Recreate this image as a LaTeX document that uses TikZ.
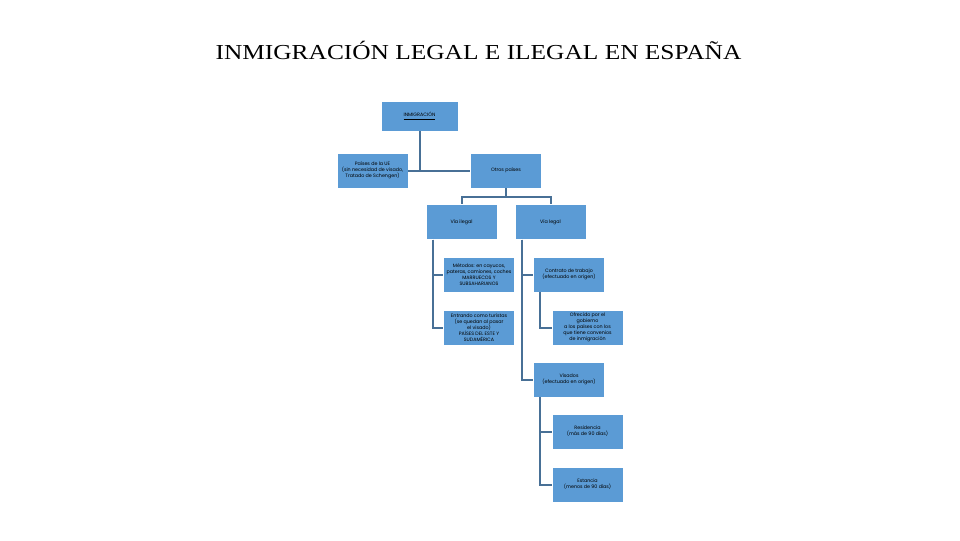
\documentclass[tikz,border=0pt]{standalone}
\usepackage{fontspec}
\setmainfont{Liberation Serif}
\newfontfamily\titlefont[FakeStretch=1.19]{Liberation Serif}
\newfontfamily\boxfont{Poppins}
\definecolor{boxblue}{RGB}{91,155,213}
\definecolor{linkblue}{RGB}{72,112,150}

\begin{document}
\begin{tikzpicture}[x=0.75pt,y=-0.75pt,
	box/.style={minimum width=53.5pt, minimum height=26pt, inner sep=1pt, fill=boxblue, draw=white, line width=0.4pt,
		align=center, font=\boxfont\fontsize{3.6}{4.4}\selectfont},
	link/.style={draw=linkblue, line width=1.5pt}]
	\useasboundingbox (0,0) rectangle (960,540);

	\draw (478.5,50) node[font=\titlefont\fontsize{16}{18}\selectfont] (title) {INMIGRACIÓN LEGAL E ILEGAL EN ESPAÑA};

	% first level
	\draw (419.5,116) node[box, minimum width=57.5pt, minimum height=22.5pt] (inmig) {\underline{INMIGRACIÓN}};
	\draw (372.5,170.5) node[box] (paises) {Países de la UE\\(sin necesidad de visado,\\Tratado de Schengen)};
	\draw (506,170.5) node[box] (otros) {Otros países};

	% second level
	\draw (461.5,222) node[box] (ilegal) {Vía ilegal};
	\draw (550.5,222) node[box] (legal) {Vía legal};

	\draw (479,274.5) node[box] (metodos) {Métodos: en cayucos,\\pateras, camiones, coches\\MARRUECOS Y\\SUBSAHARIANOS};
	\draw (479,327.5) node[box] (entrando) {Entrando como turistas\\(se quedan al pasar\\el visado)\\PAÍSES DEL ESTE Y\\SUDAMÉRICA};

	\draw (569,274.5) node[box] (contrato) {Contrato de trabajo\\(efectuado en origen)};
	\draw (587.5,327.5) node[box] (ofrecido) {Ofrecido por el\\gobierno\\a los países con los\\que tiene convenios\\de inmigración};
	\draw (569,379.5) node[box] (visados) {Visados\\(efectuado en origen)};

	\draw (587.5,431.5) node[box] (residencia) {Residencia\\(más de 90 días)};
	\draw (587.5,484.5) node[box] (estancia) {Estancia\\(menos de 90 días)};

	% connectors
	\draw[link] (paises.east) -- (otros.west);
	\draw[link] (inmig.south) -- (inmig.south |- paises.east);
	\draw[link] (otros.south) -- ++(0,9) -| (ilegal.north);
	\draw[link] (otros.south) -- ++(0,9) -| (legal.north);

	\draw[link] ([xshift=5.25pt]ilegal.south west) |- (metodos.west);
	\draw[link] ([xshift=5.25pt]ilegal.south west) |- (entrando.west);
	\draw[link] ([xshift=5.25pt]legal.south west) |- (contrato.west);
	\draw[link] ([xshift=5.25pt]legal.south west) |- (visados.west);
	\draw[link] ([xshift=5.25pt]contrato.south west) |- (ofrecido.west);
	\draw[link] ([xshift=5.25pt]visados.south west) |- (residencia.west);
	\draw[link] ([xshift=5.25pt]visados.south west) |- (estancia.west);
\end{tikzpicture}
\end{document}
